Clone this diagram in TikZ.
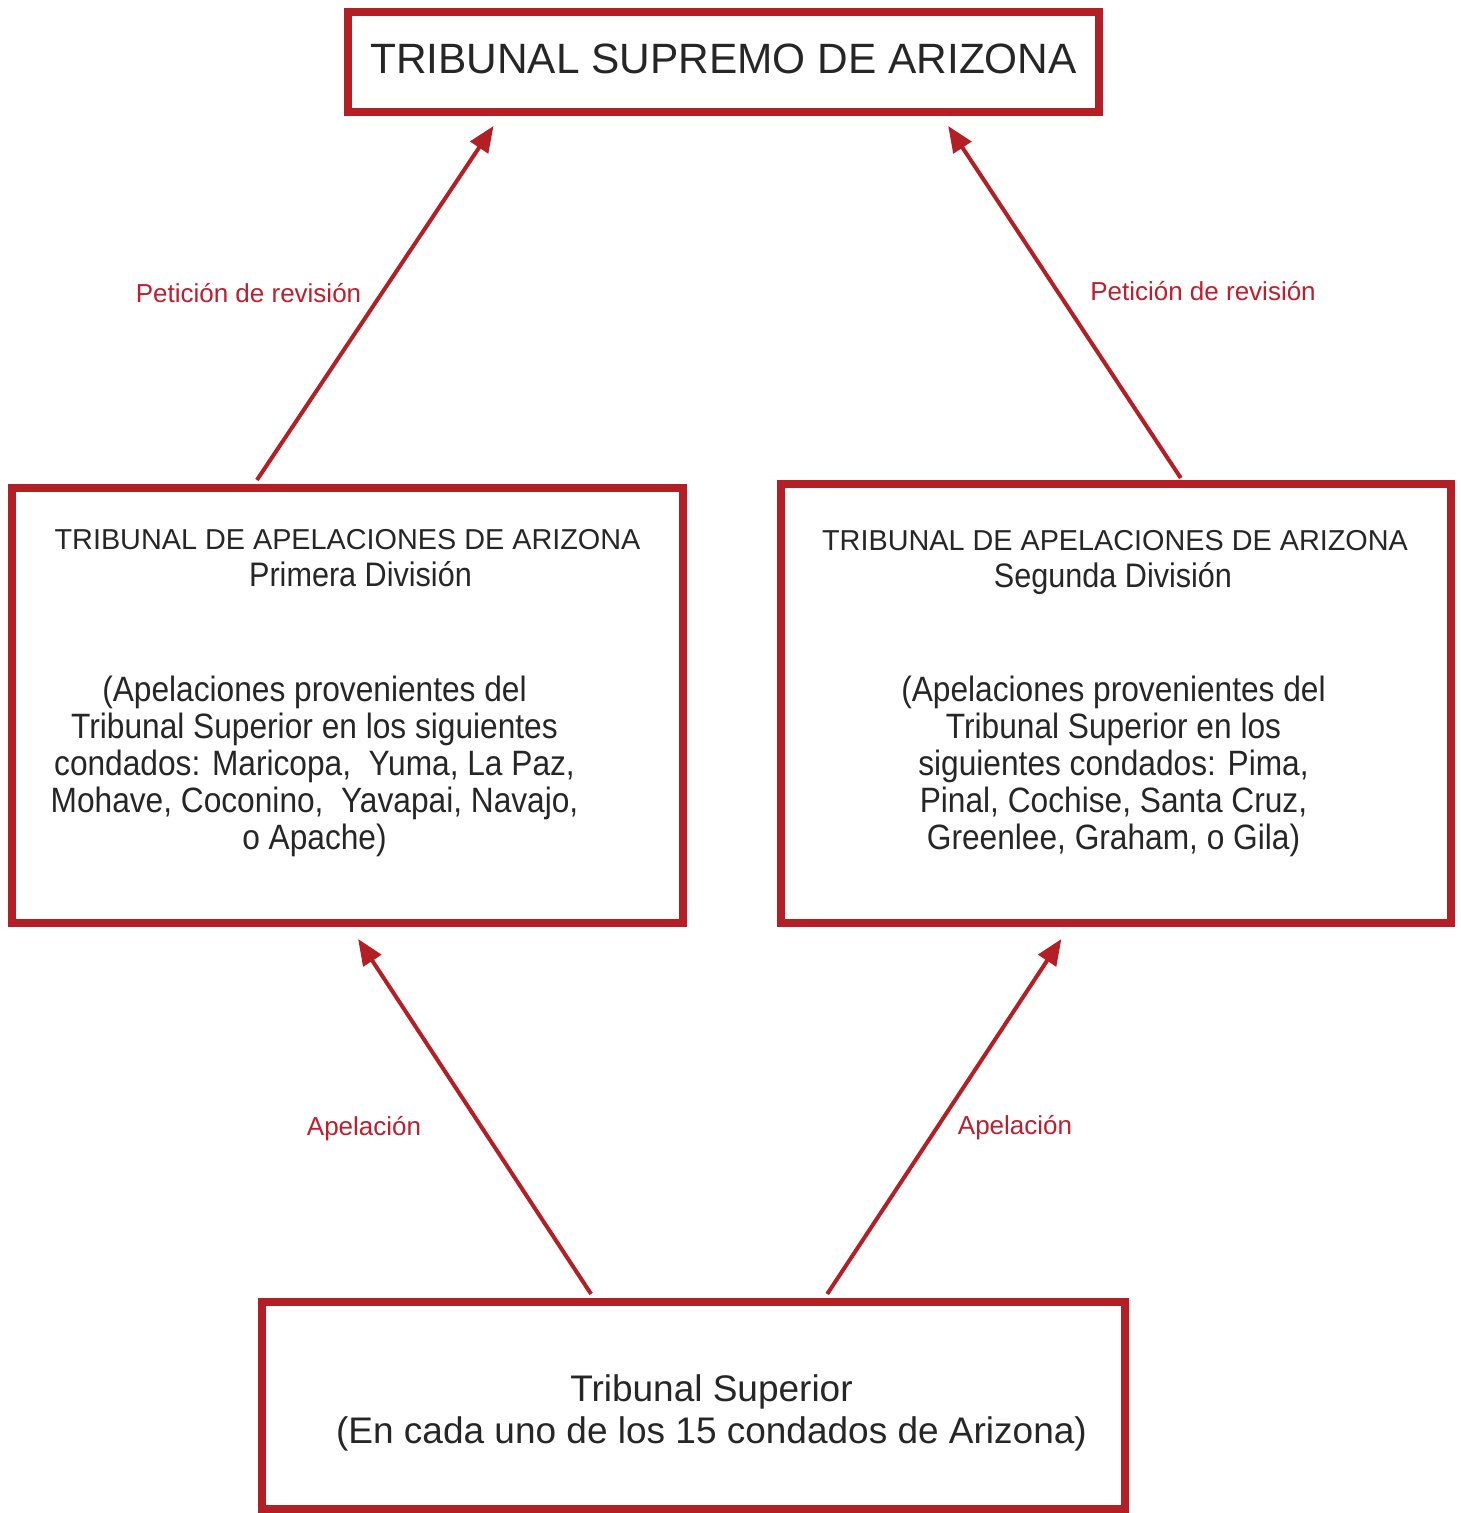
\documentclass[tikz,border=0pt]{standalone}
\usepackage{fontspec}
\setmainfont{Liberation Sans}
\newfontfamily\narrowfont[FakeStretch=0.9]{Liberation Sans}
\usetikzlibrary{arrows.meta,calc}
\definecolor{boxred}{HTML}{B31F24}
\definecolor{labred}{HTML}{BE1E2D}
\definecolor{txt}{HTML}{262626}
\begin{document}
\begin{tikzpicture}[x=0.5pt,y=-0.5pt,
  court/.style={draw=boxred,line width=4pt,inner sep=0pt,fill=white},
  arr/.style={draw=boxred,line width=2pt,-{Triangle[length=13pt,width=10.5pt]}},
  lab/.style={text=labred,font=\fontsize{13}{15}\selectfont,anchor=base,inner sep=0pt},
  ttl/.style={text=txt,anchor=base,inner sep=0pt,align=center}]
\useasboundingbox[fill=white] (0,0) rectangle (1460,1513);
% boxes
\node[court,minimum width=375.5pt,minimum height=50pt] (top) at (723.5,62) {};
\node[court,minimum width=335.5pt,minimum height=217.5pt] (lbox) at (347.5,705.5) {};
\node[court,minimum width=335pt,minimum height=219.5pt] (rbox) at (1116,703.5) {};
\node[court,minimum width=431.5pt,minimum height=103.5pt] (bbox) at (693.5,1405.5) {};
% texts (anchor base = baseline of the last line)
\node[ttl,font=\fontsize{21.2}{25}\selectfont] (ttop) at (723.5,74) {TRIBUNAL SUPREMO DE ARIZONA};
\node[ttl,font=\fontsize{14.4}{17}\selectfont] (tl1) at (347.5,549) {TRIBUNAL DE APELACIONES DE ARIZONA};
\node[ttl,font=\narrowfont\fontsize{17}{20}\selectfont] (tl2) at (360.5,586) {Primera División};
\node[ttl,font=\fontsize{14.4}{17}\selectfont] (tr1) at (1115,550) {TRIBUNAL DE APELACIONES DE ARIZONA};
\node[ttl,font=\narrowfont\fontsize{17}{20}\selectfont] (tr2) at (1113,587) {Segunda División};
\node[ttl,font=\narrowfont\fontsize{17.6}{18.5}\selectfont] (bl) at (314.5,849)
  {(Apelaciones provenientes del\\Tribunal Superior en los siguientes\\condados: Maricopa,~ Yuma, La Paz,\\Mohave, Coconino,~ Yavapai, Navajo,\\o Apache)};
\node[ttl,font=\narrowfont\fontsize{17.6}{18.5}\selectfont] (br) at (1113.5,849)
  {(Apelaciones provenientes del\\Tribunal Superior en los\\siguientes condados: Pima,\\Pinal, Cochise, Santa Cruz,\\Greenlee, Graham, o Gila)};
\node[ttl,font=\fontsize{18.5}{20.8}\selectfont] (tb) at (711.5,1443.3)
  {Tribunal Superior\\(En cada uno de los 15 condados de Arizona)};
% arrows
\draw[arr] ($(lbox.north west)!0.3666!(lbox.north east)+(0,-4)$) -- ($(top.south west)!0.197!(top.south east)+(0,10)$);
\draw[arr] ($(rbox.north west)!0.5955!(rbox.north east)+(0,-2)$) -- ($(top.south west)!0.796!(top.south east)+(0,10)$);
\draw[arr] ($(bbox.north west)!0.3824!(bbox.north east)+(0,-4)$) -- ($(lbox.south west)!0.5156!(lbox.south east)+(0,12)$);
\draw[arr] ($(bbox.north west)!0.6535!(bbox.north east)+(0,-4)$) -- ($(rbox.south west)!0.4194!(rbox.south east)+(0,12)$);
% labels
\node[lab] (l1) at (248.5,303) {Petición de revisión};
\node[lab] (l2) at (1203,301) {Petición de revisión};
\node[lab] (l3) at (364,1135) {Apelación};
\node[lab] (l4) at (1015,1134) {Apelación};
\end{tikzpicture}
\end{document}
